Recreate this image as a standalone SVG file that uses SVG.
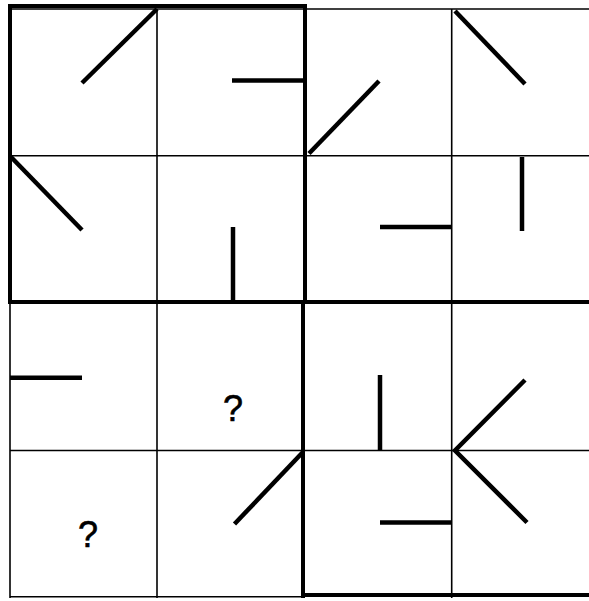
<svg xmlns="http://www.w3.org/2000/svg" width="589" height="601" viewBox="0 0 589 601">
<style>
.thin{stroke:#000;stroke-width:1.6;fill:none}
.thick{stroke:#000;stroke-width:4;fill:none}
.seg{stroke:#000;stroke-width:4.5;fill:none;stroke-linecap:butt}
.q{font-family:"Liberation Sans",Arial,sans-serif;font-size:36px;fill:#000;stroke:#000;stroke-width:0.6;text-anchor:middle}
</style>
<rect width="589" height="601" fill="#fff"/>
<g id="grid">
<line class="thin" x1="10" y1="9" x2="589" y2="9"/>
<line class="thin" x1="10" y1="155.7" x2="589" y2="155.7"/>
<line class="thin" x1="10" y1="450.5" x2="589" y2="450.5"/>
<line class="thin" x1="10" y1="596.8" x2="304" y2="596.8"/>
<line class="thin" x1="10" y1="9" x2="10" y2="598"/>
<line class="thin" x1="157" y1="9" x2="157" y2="598"/>
<line class="thin" x1="451.7" y1="9" x2="451.7" y2="598"/>
<line class="thick" x1="8" y1="6" x2="306" y2="6"/>
<line class="thick" x1="10" y1="6" x2="10" y2="302"/>
<line class="thick" x1="305" y1="4" x2="305" y2="302"/>
<line class="thick" x1="303" y1="300" x2="303" y2="598"/>
<line class="thick" x1="8" y1="302" x2="589" y2="302"/>
<line class="thick" x1="301" y1="595" x2="589" y2="595"/>
</g>
<g id="cell-r1c1"><line class="seg" x1="157" y1="9" x2="82" y2="83"/></g>
<g id="cell-r1c2"><line class="seg" x1="232" y1="80.5" x2="304" y2="80.5"/></g>
<g id="cell-r1c3"><line class="seg" x1="309" y1="153.5" x2="379" y2="81"/></g>
<g id="cell-r1c4"><line class="seg" x1="455" y1="11" x2="525" y2="84"/></g>
<g id="cell-r2c1"><line class="seg" x1="11" y1="157" x2="82" y2="230"/></g>
<g id="cell-r2c2"><line class="seg" x1="233" y1="227" x2="233" y2="302"/></g>
<g id="cell-r2c3"><line class="seg" x1="380" y1="227" x2="451.7" y2="227"/></g>
<g id="cell-r2c4"><line class="seg" x1="522" y1="157" x2="522" y2="231"/></g>
<g id="cell-r3c1"><line class="seg" x1="10" y1="377.7" x2="82" y2="377.7"/></g>
<g id="cell-r3c2"><text class="q" x="233" y="421">?</text></g>
<g id="cell-r3c3"><line class="seg" x1="380" y1="375" x2="380" y2="450.5"/></g>
<g id="cell-r3c4-r4c4"><polyline class="seg" points="525,380 455,450.5 527,522.5"/></g>
<g id="cell-r4c1"><text class="q" x="88" y="547">?</text></g>
<g id="cell-r4c2"><line class="seg" x1="303" y1="452" x2="234.5" y2="524"/></g>
<g id="cell-r4c3"><line class="seg" x1="380" y1="522.5" x2="452" y2="522.5"/></g>
</svg>
